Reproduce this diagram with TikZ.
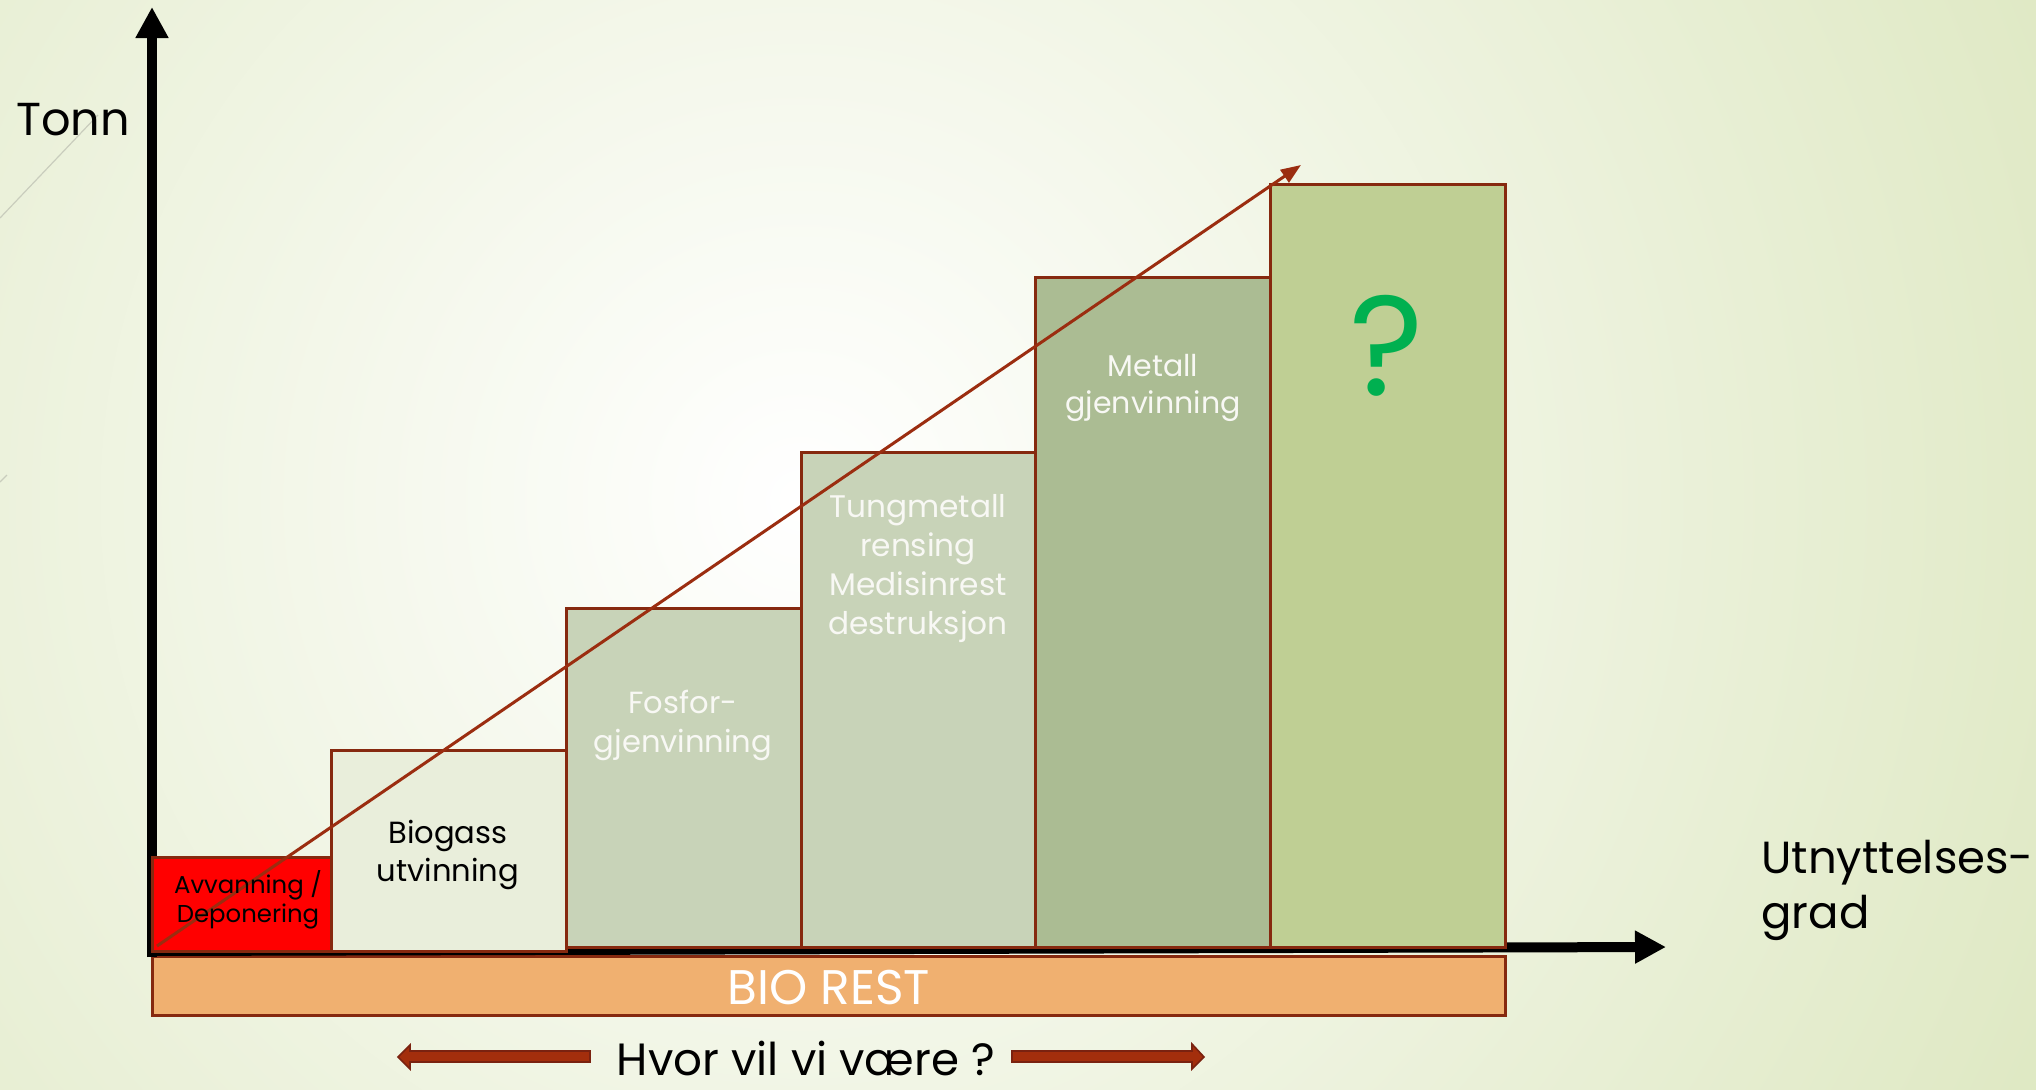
\documentclass[tikz,border=0pt]{standalone}
\usepackage{fontspec}
\setmainfont{Poppins}
\usetikzlibrary{arrows.meta}
\definecolor{bgout}{HTML}{DEE8C2}
\definecolor{barline}{HTML}{86290F}
\definecolor{barred}{HTML}{FF0000}
\definecolor{barcream}{HTML}{E9EEDB}
\definecolor{barsage}{HTML}{C8D3B8}
\definecolor{barolive}{HTML}{ABBC93}
\definecolor{barlime}{HTML}{BFCF94}
\definecolor{biorest}{HTML}{F0B070}
\definecolor{trendcol}{HTML}{9B2D10}
\definecolor{arrowfill}{HTML}{A32E0C}
\definecolor{arrowline}{HTML}{7A2210}
\definecolor{labelwhite}{HTML}{F8F8F4}
\definecolor{qgreen}{HTML}{00B050}
\definecolor{deco}{HTML}{C9CDBD}
\begin{document}
\begin{tikzpicture}[x=0.5pt,y=-0.5pt,
  bar/.style={draw=barline, line width=1.5pt},
  axisline/.style={line width=5pt, -{Triangle[length=15.5pt,width=15.5pt]}},
  trend/.style={draw=trendcol, line width=1.5pt, -{Triangle[length=10pt,width=7.5pt]}},
  lbl/.style={align=center, inner sep=0pt},
  wlbl/.style={lbl, text=labelwhite},
  blockarrow/.style={fill=arrowfill, draw=arrowline, line width=0.8pt, line join=miter},
  decoline/.style={draw=deco, line width=0.6pt}
]
\useasboundingbox (0,0) rectangle (2036,1089);
% background
\begin{scope}
  \clip (0,0) rectangle (2036,1089);
  \shade[inner color=white, outer color=bgout] (-600,-900) rectangle (2200,1900);
\end{scope}
\draw[decoline] (0,218) -- (98,115);
\draw[decoline] (0,482) -- (7,475);
% bio rest base
\draw[bar, fill=biorest] (152,956) rectangle (1505,1015);
\node[inner sep=0pt, text=white, font=\fontsize{24.3}{26}\selectfont] (bio) at (829,987) {BIO REST};
% axes
\coordinate (xs) at (150,951);
\coordinate (xe) at (1666,947);
\coordinate (ys) at (152,957);
\coordinate (ye) at (152,7);
\draw[axisline] (xs) -- (xe);
\draw[axisline] (ys) -- (ye);
% bars
\draw[bar, fill=barred]   (152,951) rectangle (331,857);
\draw[bar, fill=barcream] (331,951) rectangle (566,750);
\draw[bar, fill=barsage]  (566,947) rectangle (801,608);
\draw[bar, fill=barsage]  (801,947) rectangle (1035,452);
\draw[bar, fill=barolive] (1035,947) rectangle (1270,277);
\draw[bar, fill=barlime]  (1270,947) rectangle (1505,184);
% trend arrow
\coordinate (ts) at (157,946);
\coordinate (te) at (1301,165);
\draw[trend] (ts) -- (te);
% labels
\node[lbl, font=\fontsize{12.2}{14.5}\selectfont] (t1) at (248,900) {Avvanning /\\Deponering};
\node[lbl, font=\fontsize{15.3}{19}\selectfont] (t2) at (448,855) {Biogass\\utvinning};
\node[wlbl, font=\fontsize{15.3}{19.5}\selectfont] (t3) at (683,725) {Fosfor-\\gjenvinning};
\node[wlbl, font=\fontsize{15.6}{19.5}\selectfont] (t4) at (918,568) {Tungmetall\\rensing\\Medisinrest\\destruksjon};
\node[wlbl, font=\fontsize{15}{18.5}\selectfont] (t5) at (1153,388) {Metall\\gjenvinning};
\node[inner sep=0pt, text=qgreen, font=\fontsize{71}{74}\selectfont] (t6) at (1387,346) {?};
% axis titles
\node[anchor=base west, inner sep=0pt, font=\fontsize{23.1}{27.5}\selectfont] (tonn) at (16,135) {Tonn};
\node[anchor=north west, align=left, inner sep=0pt, font=\fontsize{22.5}{27.5}\selectfont] (grad) at (1761,840) {Utnyttelses-\\grad};
% bottom question with block arrows
\node[anchor=base, inner sep=0pt, font=\fontsize{22.6}{24}\selectfont] (q) at (806,1075) {Hvor vil vi være ?};
\draw[blockarrow] (590,1051) -- (410,1051) -- (410,1045) -- (398,1057) -- (410,1069) -- (410,1062) -- (590,1062) -- cycle;
\draw[blockarrow] (1012,1051) -- (1192,1051) -- (1192,1044) -- (1204,1057) -- (1192,1069) -- (1192,1062) -- (1012,1062) -- cycle;
\end{tikzpicture}
\end{document}
